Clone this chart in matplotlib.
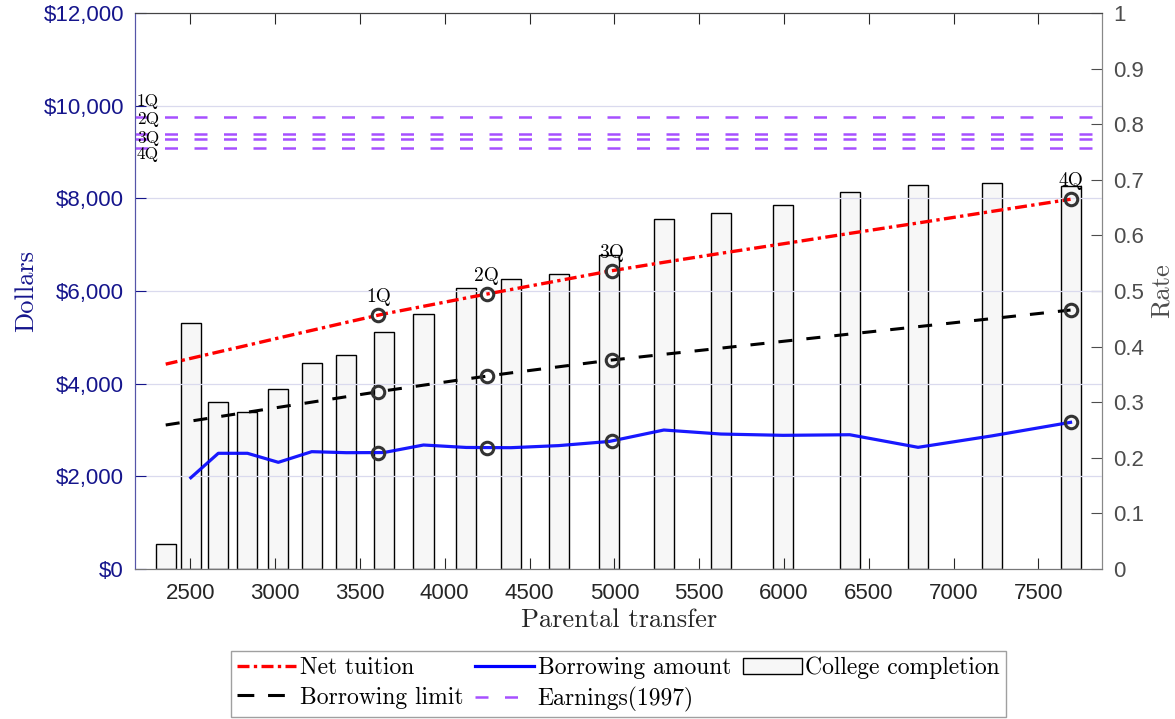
import numpy as np
import matplotlib
matplotlib.use("Agg")
import matplotlib.pyplot as plt
from matplotlib.patches import Patch
from matplotlib.lines import Line2D

# data
transfer = [2355, 2503, 2665, 2837, 3019, 3216, 3420, 3641, 3875, 4127,
            4390, 4672, 4971, 5292, 5629, 5995, 6388, 6791, 7226, 7690]
completion = [0.044, 0.442, 0.300, 0.283, 0.324, 0.370, 0.385, 0.426, 0.459, 0.505,
              0.522, 0.530, 0.564, 0.629, 0.641, 0.654, 0.679, 0.691, 0.694, 0.689]
net_tuition = [4420, 4545, 4683, 4828, 4984, 5150, 5322, 5505, 5670, 5850,
               6032, 6224, 6430, 6620, 6815, 7020, 7245, 7470, 7720, 7982]
borrow_limit = [3105, 3190, 3283, 3382, 3486, 3599, 3716, 3842, 3966, 4100,
                4231, 4363, 4503, 4632, 4766, 4913, 5070, 5230, 5404, 5589]
borrow_amount = [None, 1966, 2494, 2494, 2299, 2529, 2507, 2510, 2673, 2620,
                 2615, 2660, 2750, 2997, 2910, 2882, 2895, 2623, 2870, 3163]
quart_x = [3609, 4248, 4986, 7690]
quart_lab = ["1Q", "2Q", "3Q", "4Q"]
earnings = [9754, 9386, 9292, 9090]
earn_lab_y = [10090, 9700, 9290, 8960]

serif = "cmr10"
navy = "#15158C"
grey = "#4D4D4D"
purple = "#A650FF"

fig = plt.figure(figsize=(11.75, 7.19), dpi=100)
ax = fig.add_axes([0.1149, 0.2090, 0.8232, 0.7725])
ax2 = ax.twinx()
ax.set_zorder(ax2.get_zorder() + 1)
ax.patch.set_visible(False)

# bars (rate, right axis)
ax2.bar(transfer, completion, width=118, color="#F7F7F7", edgecolor="black", linewidth=1.0)
ax2.set_ylim(0, 1)
ax2.set_yticks(np.arange(0, 1.01, 0.1))
ax2.set_yticklabels(["0"] + ["%.1f" % v for v in np.arange(0.1, 0.95, 0.1)] + ["1"])
ax2.tick_params(axis="y", direction="in", length=8, colors=grey, labelsize=16, pad=8)
for lab in ax2.get_yticklabels():
    lab.set_fontfamily("Liberation Sans")
ax2.set_ylabel("Rate", fontfamily=serif, fontsize=19, color=grey, labelpad=4)

# lines (dollars, left axis)
ax.plot(transfer, net_tuition, color="red", lw=2.4, dashes=(3.6, 1.3, 1.0, 1.3), label="Net tuition")
ax.plot(transfer, borrow_limit, color="black", lw=2.2, dashes=(4.6, 4.6), label="Borrowing limit")
bx = [x for x, y in zip(transfer, borrow_amount) if y is not None]
by = [y for y in borrow_amount if y is not None]
ax.plot(bx, by, color="#0000FF", lw=2.3, alpha=0.9, label="Borrowing amount")
for e in earnings:
    ax.axhline(e, color=purple, lw=1.8, dashes=(5.2, 6.6))

# quartile markers
for line in (net_tuition, borrow_limit):
    ax.plot(quart_x, np.interp(quart_x, transfer, line), "o", mfc="none", mec="#333333", ms=9, mew=2.2)
ax.plot(quart_x, np.interp(quart_x, bx, by), "o", mfc="none", mec="#333333", ms=9, mew=2.2)
qy = np.interp(quart_x, transfer, net_tuition)
for x, y, s in zip(quart_x, qy, quart_lab):
    ax.annotate(s, (x, y), xytext=(0, 13), textcoords="offset points", ha="center", va="center",
                fontfamily=serif, fontsize=14)
for y, s in zip(earn_lab_y, quart_lab):
    ax.text(0.002, y, s, transform=ax.get_yaxis_transform(), ha="left", va="center",
            fontfamily=serif, fontsize=12.5)

ax.set_xlim(2174, 7877)
ax.set_ylim(0, 12000)
ax.set_xticks(range(2500, 7501, 500))
ax.set_yticks(range(0, 12001, 2000))
ax.set_yticklabels(["$" + format(v, ",") for v in range(0, 12001, 2000)])
ax.tick_params(axis="y", direction="in", length=8, colors=navy, labelsize=16, pad=8)
ax.tick_params(axis="x", direction="in", length=8, top=True, colors="#262626", labelsize=16, pad=10)
for lab in ax.get_xticklabels() + ax.get_yticklabels():
    lab.set_fontfamily("Liberation Sans")
ax.grid(axis="y", color="#DADAEE", lw=0.9)
ax.set_xlabel("Parental transfer", fontfamily=serif, fontsize=19, color="#262626", labelpad=3)
ax.set_ylabel("Dollars", fontfamily=serif, fontsize=19, color=navy, labelpad=4)

ax.spines["left"].set_color("#5555A8")
ax2.spines["left"].set_color("#5555A8")
for a in (ax, ax2):
    a.spines["right"].set_color("#888888")
    a.spines["bottom"].set_color("#777777")
    a.spines["top"].set_color("#444444")

handles = [
    Line2D([], [], color="red", lw=2.4, dashes=(3.6, 1.3, 1.0, 1.3)),
    Line2D([], [], color="black", lw=2.2, dashes=(5.5, 4.5)),
    Line2D([], [], color="#0000FF", lw=2.3),
    Line2D([], [], color=purple, lw=1.8, dashes=(5.2, 6.6)),
    Patch(facecolor="#F7F7F7", edgecolor="black", lw=1.0),
]
labels = ["Net tuition", "Borrowing limit", "Borrowing amount", "Earnings(1997)", "College completion"]
leg = ax.legend(handles, labels, ncol=3, loc="upper center", bbox_to_anchor=(0.5, -0.148),
                prop={"family": serif, "size": 17}, frameon=True, fancybox=False,
                edgecolor="#888888", handlelength=2.5, handletextpad=0.15, columnspacing=0.5,
                labelspacing=0.3, borderpad=0.25, borderaxespad=0)
leg.get_frame().set_linewidth(1.0)

fig.savefig("out.png", dpi=100)
